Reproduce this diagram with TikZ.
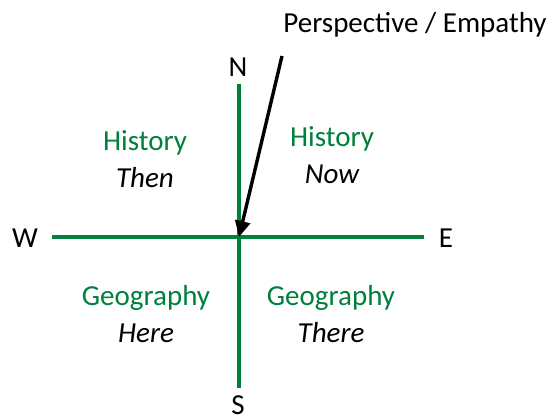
\documentclass[tikz,border=0pt]{standalone}
\usepackage{fontspec}
\setmainfont{Carlito}
\usetikzlibrary{arrows.meta}
\definecolor{axgreen}{RGB}{0,128,60}
\tikzset{
  lbl/.style={font=\fontsize{29}{34}\selectfont, inner sep=0pt, anchor=center},
  glbl/.style={lbl, text=axgreen},
  ilbl/.style={lbl, font=\fontsize{29}{34}\selectfont\itshape},
  axis/.style={draw=axgreen, line width=3.5pt},
  persp/.style={draw=black, line width=3.4pt, -{Triangle[length=16pt,width=15pt]}}
}
\begin{document}
\begin{tikzpicture}[x=1pt,y=-1pt]
\useasboundingbox (0,0) rectangle (556,417);
\coordinate (ntop) at (239,84);
\coordinate (sbot) at (239,388);
\coordinate (wend) at (52,237);
\coordinate (eend) at (424,237);
\coordinate (center) at (239,237);
\coordinate (pstart) at (282,56);
\draw[axis] (ntop) -- (sbot);
\draw[axis] (wend) -- (eend);
\node[lbl] (N) at (238,67) {N};
\node[lbl] (S) at (238,405) {S};
\node[lbl] (W) at (25,238) {W};
\node[lbl] (E) at (446,238) {E};
\node[lbl] (P) at (415,25) {Perspective / Empathy};
\draw[persp] (pstart) -- (center);
\node[glbl] (h1) at (145,143) {History};
\node[ilbl] (h1t) at (145,178) {Then};
\node[glbl] (h2) at (332,139) {History};
\node[ilbl] (h2t) at (332,174) {Now};
\node[glbl] (g1) at (146,298) {Geography};
\node[ilbl] (g1t) at (146,333) {Here};
\node[glbl] (g2) at (331,298) {Geography};
\node[ilbl] (g2t) at (331,333) {There};
\end{tikzpicture}
\end{document}
